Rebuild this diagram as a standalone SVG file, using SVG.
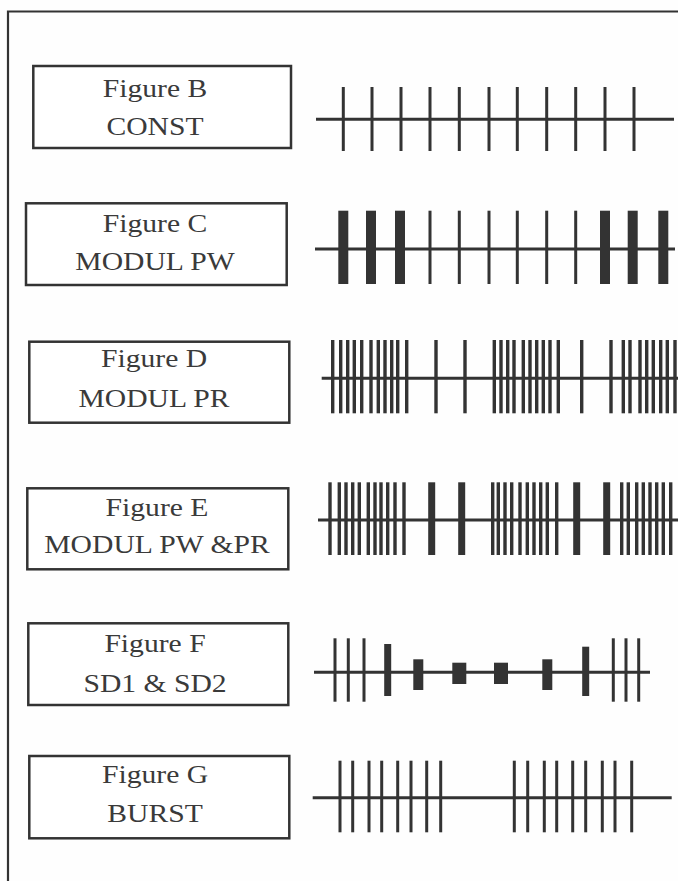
<svg xmlns="http://www.w3.org/2000/svg" width="678" height="881" viewBox="0 0 678 881">
<style>
.bg{fill:#fefefe}
.frame{fill:none;stroke:#333;stroke-width:2.2}
.box{fill:#fff;stroke:#333;stroke-width:2.5}
.lbl{font-family:"Liberation Serif","Times New Roman",serif;font-size:26px;fill:#3a3a3a;text-anchor:middle}
.axis{stroke:#333;stroke-width:3;fill:none}
.p{fill:#333}
</style>
<rect class="bg" x="0" y="0" width="678" height="881"/>
<path class="frame" d="M8,881 V11.5 H678"/>

<g id="nodeB">
<rect class="box" x="33.3" y="66" width="257.7" height="82"/>
<text class="lbl" transform="translate(155,97.3) scale(1.14,1)">Figure B</text>
<text class="lbl" transform="translate(155,135) scale(1.14,1)">CONST</text>
</g>
<g id="nodeC">
<rect class="box" x="26" y="203.3" width="260.7" height="81.7"/>
<text class="lbl" transform="translate(155,231.7) scale(1.14,1)">Figure C</text>
<text class="lbl" transform="translate(155,270) scale(1.14,1)">MODUL PW</text>
</g>
<g id="nodeD">
<rect class="box" x="29.3" y="341.7" width="260" height="81"/>
<text class="lbl" transform="translate(154,366.7) scale(1.14,1)">Figure D</text>
<text class="lbl" transform="translate(154,406.7) scale(1.14,1)">MODUL PR</text>
</g>
<g id="nodeE">
<rect class="box" x="27.3" y="488.3" width="261" height="81"/>
<text class="lbl" transform="translate(157,515.7) scale(1.14,1)">Figure E</text>
<text class="lbl" transform="translate(157,553.3) scale(1.14,1)">MODUL PW &amp;PR</text>
</g>
<g id="nodeF">
<rect class="box" x="28.3" y="623.3" width="260" height="81.7"/>
<text class="lbl" transform="translate(155,651.7) scale(1.14,1)">Figure F</text>
<text class="lbl" transform="translate(155,691.7) scale(1.14,1)">SD1 &amp; SD2</text>
</g>
<g id="nodeG">
<rect class="box" x="29.3" y="756" width="260" height="82.3"/>
<text class="lbl" transform="translate(155,783.3) scale(1.14,1)">Figure G</text>
<text class="lbl" transform="translate(155,821.7) scale(1.14,1)">BURST</text>
</g>

<g id="connectors">
<!-- Row B -->
<g id="trainB">
<line class="axis" x1="316" y1="119.3" x2="674" y2="119.3"/>
<g class="p">
<rect x="341.8" y="87" width="3" height="64"/>
<rect x="370.5" y="87" width="3" height="64"/>
<rect x="399.5" y="87" width="3" height="64"/>
<rect x="428.5" y="87" width="3" height="64"/>
<rect x="457.8" y="87" width="3" height="64"/>
<rect x="487.5" y="87" width="3" height="64"/>
<rect x="515.8" y="87" width="3" height="64"/>
<rect x="545.2" y="87" width="3" height="64"/>
<rect x="574.2" y="87" width="3" height="64"/>
<rect x="603.5" y="87" width="3" height="64"/>
<rect x="632.5" y="87" width="3" height="64"/>
</g>
</g>
<!-- Row C -->
<g id="trainC">
<line class="axis" x1="315" y1="249" x2="675" y2="249"/>
<g class="p">
<rect x="338.3" y="210.7" width="10" height="73.3"/>
<rect x="366" y="210.7" width="10" height="73.3"/>
<rect x="395" y="210.7" width="10" height="73.3"/>
<rect x="428.5" y="210.7" width="3" height="73.3"/>
<rect x="457.8" y="210.7" width="3" height="73.3"/>
<rect x="487.5" y="210.7" width="3" height="73.3"/>
<rect x="515.8" y="210.7" width="3" height="73.3"/>
<rect x="545.2" y="210.7" width="3" height="73.3"/>
<rect x="574.2" y="210.7" width="3" height="73.3"/>
<rect x="600" y="210.7" width="10" height="73.3"/>
<rect x="627.7" y="210.7" width="10" height="73.3"/>
<rect x="658.3" y="210.7" width="10" height="73.3"/>
</g>
</g>
<!-- Row D -->
<g id="trainD">
<line class="axis" x1="321.7" y1="378.3" x2="678" y2="378.3"/>
<g class="p">
<rect x="331" y="340" width="3.4" height="73.3"/>
<rect x="339" y="340" width="3.4" height="73.3"/>
<rect x="346" y="340" width="3.4" height="73.3"/>
<rect x="352.6" y="340" width="3.4" height="73.3"/>
<rect x="360" y="340" width="3.4" height="73.3"/>
<rect x="369.3" y="340" width="3.4" height="73.3"/>
<rect x="376.6" y="340" width="3.4" height="73.3"/>
<rect x="383.3" y="340" width="3.4" height="73.3"/>
<rect x="390" y="340" width="3.4" height="73.3"/>
<rect x="396" y="340" width="3.4" height="73.3"/>
<rect x="405" y="340" width="3.4" height="73.3"/>
<rect x="434.3" y="340" width="3.4" height="73.3"/>
<rect x="463.3" y="340" width="3.4" height="73.3"/>
<rect x="492.6" y="340" width="3.4" height="73.3"/>
<rect x="499.3" y="340" width="3.4" height="73.3"/>
<rect x="506" y="340" width="3.4" height="73.3"/>
<rect x="512.3" y="340" width="3.4" height="73.3"/>
<rect x="521.6" y="340" width="3.4" height="73.3"/>
<rect x="528.3" y="340" width="3.4" height="73.3"/>
<rect x="535" y="340" width="3.4" height="73.3"/>
<rect x="541.6" y="340" width="3.4" height="73.3"/>
<rect x="548.3" y="340" width="3.4" height="73.3"/>
<rect x="556.6" y="340" width="3.4" height="73.3"/>
<rect x="580" y="340" width="3.4" height="73.3"/>
<rect x="609.3" y="340" width="3.4" height="73.3"/>
<rect x="621.6" y="340" width="3.4" height="73.3"/>
<rect x="628.3" y="340" width="3.4" height="73.3"/>
<rect x="638.3" y="340" width="3.4" height="73.3"/>
<rect x="645" y="340" width="3.4" height="73.3"/>
<rect x="651.6" y="340" width="3.4" height="73.3"/>
<rect x="659" y="340" width="3.4" height="73.3"/>
<rect x="665.6" y="340" width="3.4" height="73.3"/>
<rect x="673.3" y="340" width="3.4" height="73.3"/>
</g>
</g>
<!-- Row E -->
<g id="trainE">
<line class="axis" x1="318" y1="520" x2="678" y2="520"/>
<g class="p">
<rect x="328.3" y="482.3" width="3.4" height="72.7"/>
<rect x="337.6" y="482.3" width="3.4" height="72.7"/>
<rect x="344.3" y="482.3" width="3.4" height="72.7"/>
<rect x="351" y="482.3" width="3.4" height="72.7"/>
<rect x="357.6" y="482.3" width="3.4" height="72.7"/>
<rect x="366.6" y="482.3" width="3.4" height="72.7"/>
<rect x="373.3" y="482.3" width="3.4" height="72.7"/>
<rect x="379.3" y="482.3" width="3.4" height="72.7"/>
<rect x="386" y="482.3" width="3.4" height="72.7"/>
<rect x="393.3" y="482.3" width="3.4" height="72.7"/>
<rect x="402.3" y="482.3" width="3.4" height="72.7"/>
<rect x="428.2" y="482.3" width="7" height="72.7"/>
<rect x="458.2" y="482.3" width="7" height="72.7"/>
<rect x="491" y="482.3" width="3.4" height="72.7"/>
<rect x="496.6" y="482.3" width="3.4" height="72.7"/>
<rect x="503.3" y="482.3" width="3.4" height="72.7"/>
<rect x="510" y="482.3" width="3.4" height="72.7"/>
<rect x="518.3" y="482.3" width="3.4" height="72.7"/>
<rect x="525.6" y="482.3" width="3.4" height="72.7"/>
<rect x="532.3" y="482.3" width="3.4" height="72.7"/>
<rect x="539" y="482.3" width="3.4" height="72.7"/>
<rect x="545.6" y="482.3" width="3.4" height="72.7"/>
<rect x="555" y="482.3" width="3.4" height="72.7"/>
<rect x="573.2" y="482.3" width="7" height="72.7"/>
<rect x="603.2" y="482.3" width="7" height="72.7"/>
<rect x="620" y="482.3" width="3.4" height="72.7"/>
<rect x="626.6" y="482.3" width="3.4" height="72.7"/>
<rect x="635" y="482.3" width="3.4" height="72.7"/>
<rect x="641.6" y="482.3" width="3.4" height="72.7"/>
<rect x="648.3" y="482.3" width="3.4" height="72.7"/>
<rect x="655" y="482.3" width="3.4" height="72.7"/>
<rect x="661.6" y="482.3" width="3.4" height="72.7"/>
<rect x="669" y="482.3" width="3.4" height="72.7"/>
</g>
</g>
<!-- Row F -->
<g id="trainF">
<line class="axis" x1="314" y1="672.3" x2="650" y2="672.3"/>
<g class="p">
<rect x="333.5" y="638.3" width="3" height="63.4"/>
<rect x="346.8" y="638.3" width="3" height="63.4"/>
<rect x="362.5" y="638.3" width="3" height="63.4"/>
<rect x="384.2" y="644" width="7" height="52"/>
<rect x="413.3" y="659.3" width="10" height="30.7"/>
<rect x="452.3" y="662.7" width="14" height="21.3"/>
<rect x="494" y="662.7" width="14" height="21.3"/>
<rect x="542.3" y="659.3" width="10" height="30.7"/>
<rect x="582.2" y="646.7" width="7" height="49.3"/>
<rect x="611.8" y="638.3" width="3" height="63.4"/>
<rect x="624.5" y="638.3" width="3" height="63.4"/>
<rect x="637.2" y="638.3" width="3" height="63.4"/>
</g>
</g>
<!-- Row G -->
<g id="trainG">
<line class="axis" x1="312.7" y1="797.7" x2="671.7" y2="797.7"/>
<g class="p">
<rect x="338.5" y="760.7" width="3" height="71.6"/>
<rect x="351.2" y="760.7" width="3" height="71.6"/>
<rect x="367.5" y="760.7" width="3" height="71.6"/>
<rect x="380.2" y="760.7" width="3" height="71.6"/>
<rect x="396.2" y="760.7" width="3" height="71.6"/>
<rect x="409.5" y="760.7" width="3" height="71.6"/>
<rect x="425.2" y="760.7" width="3" height="71.6"/>
<rect x="439.2" y="760.7" width="3" height="71.6"/>
<rect x="512.8" y="760.7" width="3" height="71.6"/>
<rect x="526.2" y="760.7" width="3" height="71.6"/>
<rect x="542.8" y="760.7" width="3" height="71.6"/>
<rect x="555.2" y="760.7" width="3" height="71.6"/>
<rect x="571.2" y="760.7" width="3" height="71.6"/>
<rect x="584.2" y="760.7" width="3" height="71.6"/>
<rect x="600.8" y="760.7" width="3" height="71.6"/>
<rect x="613.5" y="760.7" width="3" height="71.6"/>
<rect x="630.2" y="760.7" width="3" height="71.6"/>
</g>
</g>
</g>
</svg>
